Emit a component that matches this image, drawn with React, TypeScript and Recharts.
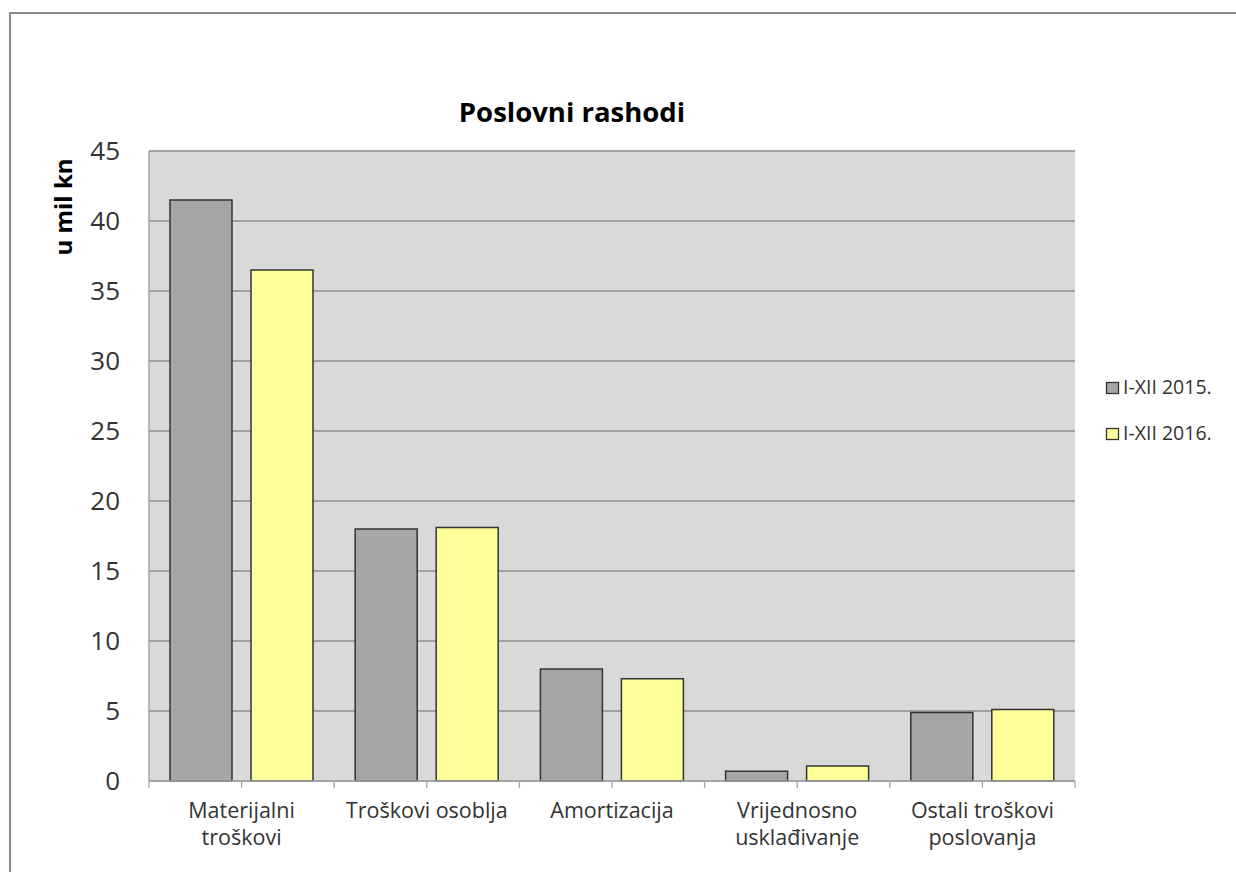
import React from 'react';
import { BarChart, Bar, XAxis, YAxis, CartesianGrid, Legend } from 'recharts';

const categories = [
  'Materijalni\ntroškovi',
  'Troškovi osoblja',
  'Amortizacija',
  'Vrijednosno\nusklađivanje',
  'Ostali troškovi\nposlovanja',
];
const series2015 = [41.5, 18.0, 8.0, 0.7, 4.9];
const series2016 = [36.5, 18.1, 7.3, 1.07, 5.1];
const seriesNames = ['I-XII 2015.', 'I-XII 2016.'];
const seriesColors = ['#a6a6a6', '#ffff99'];
const yTicks = [0, 5, 10, 15, 20, 25, 30, 35, 40, 45];
const chartTitle = 'Poslovni rashodi';
const yAxisTitle = 'u mil kn';

const data = categories.map((c, i) => ({ name: c, y2015: series2015[i], y2016: series2016[i] }));

const FONT = "'Open Sans', 'Noto Sans', sans-serif";

const XTick = (props: any) => {
  const { x, y, payload, index, visibleTicksCount } = props;
  const half = (payload && payload.offset) || 92.6;
  const lines = String(payload.value).split('\n');
  const axisY = y - 7;
  const last = visibleTicksCount ? index === visibleTicksCount - 1 : index === categories.length - 1;
  return (
    <g>
      <line x1={x - half} x2={x - half} y1={axisY} y2={axisY + 7} stroke="#a6a6a6" strokeWidth={1.3} />
      {last && <line x1={x + half} x2={x + half} y1={axisY} y2={axisY + 7} stroke="#a6a6a6" strokeWidth={1.3} />}
      <text textAnchor="middle" fontSize={21.5} fill="#333" fontFamily={FONT}>
        {lines.map((l, i) => (
          <tspan key={i} x={x} y={y + 30 + i * 27}>
            {l}
          </tspan>
        ))}
      </text>
    </g>
  );
};

const LegendContent = (props: any) => {
  const items = props.payload || [];
  return (
    <svg width={136} height={90} style={{ overflow: 'visible' }}>
      {items.map((it: any, i: number) => (
        <g key={i}>
          <rect x={6.5} y={12.5 + i * 46} width={12} height={11} fill={it.color || seriesColors[i]} stroke="#333" strokeWidth={1.3} />
          <text x={23} y={23.5 + i * 46} fontSize={19.5} fill="#333" fontFamily={FONT}>
            {it.value}
          </text>
        </g>
      ))}
    </svg>
  );
};

export default function App() {
  return (
    <div
      style={{
        position: 'fixed',
        left: 0,
        top: 0,
        width: 1236,
        height: 872,
        overflow: 'hidden',
        background: '#fff',
        fontFamily: FONT,
      }}
    >
      <div
        style={{
          position: 'absolute',
          left: 9,
          top: 12,
          width: 1500,
          height: 1200,
          border: '2px solid #8a8a8a',
          boxSizing: 'border-box',
        }}
      />
      <div style={{ position: 'absolute', left: 0, top: 0 }}>
        <BarChart
          width={1236}
          height={872}
          data={data}
          margin={{ top: 151, right: 161, bottom: 0, left: 0 }}
          barSize={62}
          barGap={19}
        >
          <CartesianGrid vertical={false} stroke="#8c8c8c" strokeWidth={1.3} fill="#d9d9d9" fillOpacity={1} />
          <XAxis
            dataKey="name"
            height={91}
            interval={0}
            tickSize={7}
            tickMargin={0}
            tick={<XTick />}
            axisLine={{ stroke: '#a6a6a6', strokeWidth: 1.5 }}
            tickLine={{ stroke: '#a6a6a6', strokeWidth: 1.3 }}
          />
          <YAxis
            width={149}
            domain={[0, 45]}
            ticks={yTicks}
            interval={0}
            tickLine={false}
            tickSize={0}
            tickMargin={29}
            axisLine={{ stroke: '#a6a6a6', strokeWidth: 1.5 }}
            tick={{ fontSize: 26, fill: '#333', fontFamily: FONT }}
          />
          <Bar dataKey="y2015" name={seriesNames[0]} fill={seriesColors[0]} stroke="#333" strokeWidth={1.5} isAnimationActive={false} />
          <Bar dataKey="y2016" name={seriesNames[1]} fill={seriesColors[1]} stroke="#333" strokeWidth={1.5} isAnimationActive={false} />
          <Legend
            layout="horizontal"
            verticalAlign="middle"
            align="center"
            content={<LegendContent />}
            wrapperStyle={{ position: 'absolute', left: 1100, top: 370, width: 136, height: 90 }}
          />
        </BarChart>
      </div>
      <svg width={1236} height={872} style={{ position: 'absolute', left: 0, top: 0, pointerEvents: 'none' }}>
        <text x={572} y={122} textAnchor="middle" fontSize={27.5} fontWeight="bold" fill="#000" fontFamily={FONT}>
          {chartTitle}
        </text>
        <text
          x={72}
          y={207}
          transform="rotate(-90 72 207)"
          textAnchor="middle"
          fontSize={24}
          fontWeight="bold"
          fill="#000"
          fontFamily={FONT}
        >
          {yAxisTitle}
        </text>
      </svg>
    </div>
  );
}
